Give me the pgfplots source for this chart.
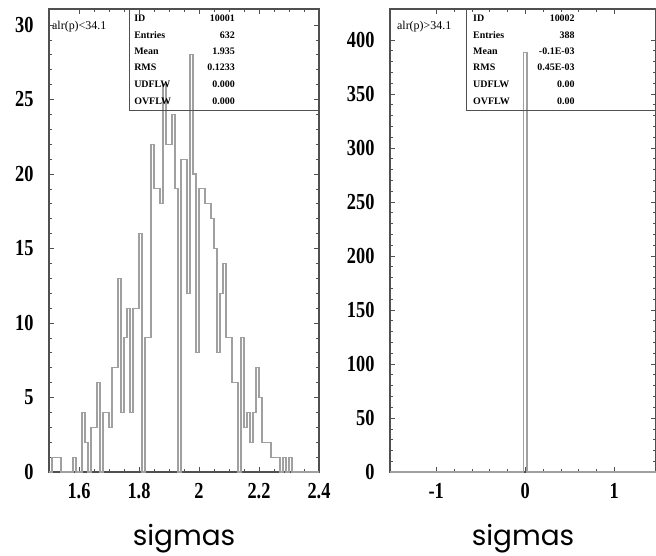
\documentclass[border=0pt]{standalone}
\usepackage{pgfplots}
\pgfplotsset{compat=1.18}
\usepackage{fontspec}
\setmainfont{Liberation Serif}
\newfontfamily\tickfont[FakeStretch=0.8]{Liberation Serif}
\newfontfamily\labelfont{Poppins}

\definecolor{histgray}{RGB}{160,160,160}
\definecolor{framegray}{RGB}{80,80,80}

% bin contents (left edge of each 0.01-wide bin, count)
\pgfplotstableread{
x     n
1.50  0
1.51  1
1.52  1
1.53  1
1.54  0
1.55  0
1.56  0
1.57  0
1.58  1
1.59  0
1.60  0
1.61  4
1.62  2
1.63  0
1.64  3
1.65  3
1.66  6
1.67  0
1.68  4
1.69  4
1.70  3
1.71  7
1.72  7
1.73  13
1.74  4
1.75  9
1.76  11
1.77  4
1.78  11
1.79  11
1.80  16
1.81  0
1.82  9
1.83  9
1.84  22
1.85  19
1.86  19
1.87  18
1.88  26
1.89  22
1.90  22
1.91  24
1.92  19
1.93  0
1.94  21
1.95  21
1.96  12
1.97  28
1.98  20
1.99  8
2.00  19
2.01  19
2.02  18
2.03  18
2.04  17
2.05  15
2.06  8
2.07  12
2.08  14
2.09  9
2.10  9
2.11  6
2.12  6
2.13  0
2.14  9
2.15  3
2.16  4
2.17  2
2.18  4
2.19  7
2.20  5
2.21  2
2.22  2
2.23  2
2.24  1
2.25  1
2.26  1
2.27  0
2.28  1
2.29  0
2.30  1
2.31  0
2.40  0
}\histleft

\pgfplotstableread{
x      n
-1.52  0
-0.02  388
0.02   0
1.47   0
}\histright

\tikzset{
  statstext/.style={font=\bfseries\fontsize{10}{10}\selectfont, inner sep=0pt},
  histtitle/.style={font=\fontsize{12}{12}\selectfont, inner sep=0pt, anchor=west},
}

\pgfplotsset{
  pawstyle/.style={
    scale only axis,
    anchor=south west,
    axis line style={framegray, line width=1.1pt},
    tick align=inside,
    major tick length=5bp,
    minor tick length=3bp,
    every tick/.style={framegray, line width=0.6pt},
    ymin=0,
    /pgf/number format/assume math mode=true,
    tick label style={font=\tickfont\bfseries\fontsize{23}{23}\selectfont},
    xticklabel style={yshift=-8bp},
    yticklabel style={xshift=-12bp},
    xlabel={sigmas},
    xlabel style={font=\labelfont\fontsize{28}{28}\selectfont, yshift=-18bp},
    clip=false,
  },
}

\begin{document}
\begin{tikzpicture}
\useasboundingbox (0bp,0bp) rectangle (656bp,556bp);

\begin{axis}[pawstyle,
  at={(49bp,84bp)}, width=270bp, height=463bp,
  xmin=1.5, xmax=2.4, ymax=31.07,
  xtick={1.6,1.8,2,2.2,2.4}, ytick={0,5,...,30},
  minor x tick num=3, minor y tick num=4,
]
\addplot[const plot mark left, histgray, line width=1.1pt] table[x=x, y=n] {\histleft};
% statistics box
\draw[framegray, line width=0.8pt] (rel axis cs:0.296,0.782) rectangle (rel axis cs:1,1);
\node[statstext, anchor=west] at (rel axis cs:0.315,0.981) {ID};
\node[statstext, anchor=west] at (rel axis cs:0.315,0.944) {Entries};
\node[statstext, anchor=west] at (rel axis cs:0.315,0.909) {Mean};
\node[statstext, anchor=west] at (rel axis cs:0.315,0.875) {RMS};
\node[statstext, anchor=west] at (rel axis cs:0.315,0.838) {UDFLW};
\node[statstext, anchor=west] at (rel axis cs:0.315,0.801) {OVFLW};
\node[statstext, anchor=east] at (rel axis cs:0.689,0.981) {10001};
\node[statstext, anchor=east] at (rel axis cs:0.689,0.944) {632};
\node[statstext, anchor=east] at (rel axis cs:0.689,0.909) {1.935};
\node[statstext, anchor=east] at (rel axis cs:0.689,0.875) {0.1233};
\node[statstext, anchor=east] at (rel axis cs:0.689,0.838) {0.000};
\node[statstext, anchor=east] at (rel axis cs:0.689,0.801) {0.000};
\node[histtitle] at (rel axis cs:0.011,0.962) {alr(p)<34.1};
\end{axis}

\begin{axis}[pawstyle,
  at={(390bp,84bp)}, width=266bp, height=463bp,
  xmin=-1.52, xmax=1.47, ymax=428.7,
  xtick={-1,0,1}, ytick={0,50,...,400},
  minor x tick num=4, minor y tick num=4,
]
\addplot[const plot mark left, histgray, line width=1.1pt] table[x=x, y=n] {\histright};
\draw[framegray, line width=0.8pt] (rel axis cs:0.289,0.782) rectangle (rel axis cs:1,1);
\node[statstext, anchor=west] at (rel axis cs:0.312,0.981) {ID};
\node[statstext, anchor=west] at (rel axis cs:0.312,0.944) {Entries};
\node[statstext, anchor=west] at (rel axis cs:0.312,0.909) {Mean};
\node[statstext, anchor=west] at (rel axis cs:0.312,0.875) {RMS};
\node[statstext, anchor=west] at (rel axis cs:0.312,0.838) {UDFLW};
\node[statstext, anchor=west] at (rel axis cs:0.312,0.801) {OVFLW};
\node[statstext, anchor=east] at (rel axis cs:0.695,0.981) {10002};
\node[statstext, anchor=east] at (rel axis cs:0.695,0.944) {388};
\node[statstext, anchor=east] at (rel axis cs:0.695,0.909) {-0.1E-03};
\node[statstext, anchor=east] at (rel axis cs:0.695,0.875) {0.45E-03};
\node[statstext, anchor=east] at (rel axis cs:0.695,0.838) {0.00};
\node[statstext, anchor=east] at (rel axis cs:0.695,0.801) {0.00};
\node[histtitle] at (rel axis cs:0.026,0.962) {alr(p)>34.1};
\end{axis}
\end{tikzpicture}
\end{document}
